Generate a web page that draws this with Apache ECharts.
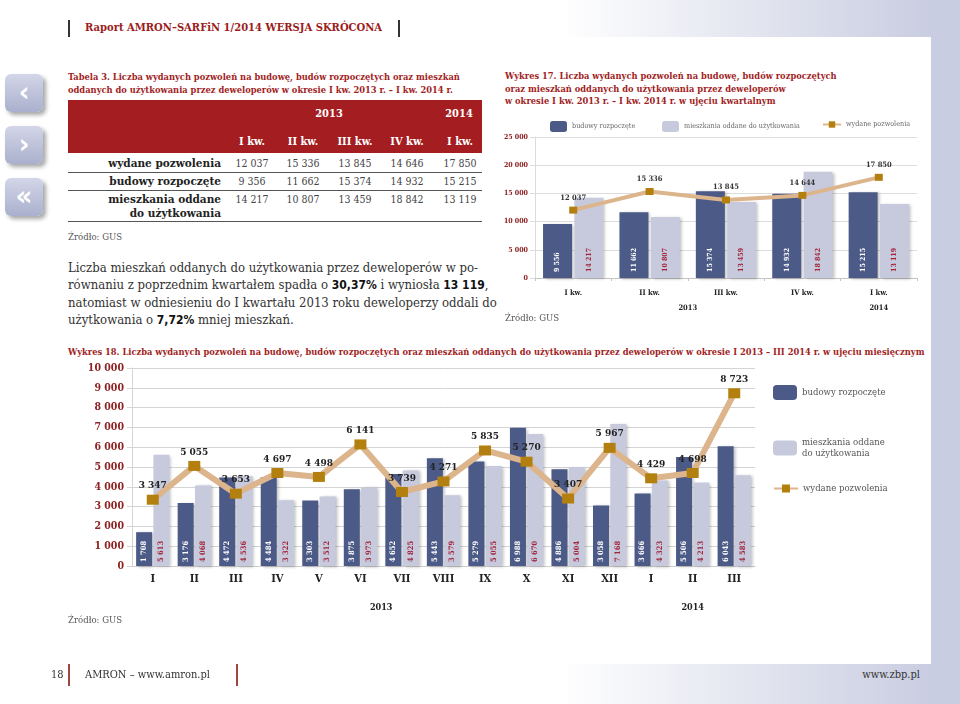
<!DOCTYPE html>
<html><head><meta charset="utf-8">
<script src="https://cdn.jsdelivr.net/npm/echarts@6/dist/echarts.min.js"></script>
<style>
html,body{margin:0;padding:0;}
body{width:960px;height:704px;position:relative;overflow:hidden;
 background:linear-gradient(90deg,#fff 0px,#fff 560px,#c9cde1 932px,#c9cde1 960px);
 font-family:'DejaVu Serif Condensed','DejaVu Serif',serif;color:#333;}
.abs{position:absolute;white-space:nowrap;}
#panel{position:absolute;left:0;top:37px;width:931px;height:627px;background:#fff;}
.vbar{position:absolute;width:2px;background:#333;}
.ttl{position:absolute;color:#a01e24;font-weight:bold;font-size:9.25px;line-height:12.5px;white-space:nowrap;}
.src{position:absolute;font-size:9.5px;color:#555;white-space:nowrap;}
.nav{position:absolute;left:5px;width:38px;height:38px;border-radius:6px;
 background:linear-gradient(180deg,#d3d6e8,#aab0cd);box-shadow:3px 3px 4px rgba(0,0,0,0.35);
 color:#fff;font-family:'DejaVu Sans',sans-serif;font-weight:bold;font-size:26px;line-height:36px;text-align:center;}
.hd{position:absolute;color:#fff;font-weight:bold;font-size:11px;transform:translate(-50%,-50%);white-space:nowrap;}
.cell{position:absolute;font-size:10.5px;color:#444;transform:translate(-50%,-50%);white-space:nowrap;}
.lab{position:absolute;font-weight:bold;font-size:11.7px;color:#222;text-align:right;white-space:nowrap;transform:translateY(-50%);}
.rule{position:absolute;left:68px;width:414px;height:1px;background:#555;}
#para{position:absolute;left:68px;top:259px;font-size:13px;line-height:17px;color:#333;white-space:nowrap;}
#para b{font-family:'DejaVu Sans Condensed','DejaVu Sans',sans-serif;font-size:12px;font-weight:bold;color:#111;}
</style></head>
<body>
<div id="panel"></div>
<div class="vbar" style="left:68px;top:20px;height:17px;"></div>
<div class="abs" style="left:85px;top:21px;font-size:11.1px;font-weight:bold;color:#9b1d22;">Raport AMRON–SARFiN 1/2014 WERSJA SKRÓCONA</div>
<div class="vbar" style="left:398px;top:20px;height:17px;"></div>

<div class="nav" style="top:74px;">‹</div>
<div class="nav" style="top:126px;">›</div>
<div class="nav" style="top:178px;">«</div>

<div class="ttl" style="left:68px;top:71px;">Tabela 3. Liczba wydanych pozwoleń na budowę, budów rozpoczętych oraz mieszkań<br>oddanych do użytkowania przez deweloperów w okresie I kw. 2013 r. – I kw. 2014 r.</div>
<div id="tbl"></div>
<div class="src" style="left:68px;top:231px;">Źródło: GUS</div>

<div id="para">Liczba mieszkań oddanych do użytkowania przez deweloperów w po-<br>równaniu z poprzednim kwartałem spadła o <b>30,37%</b> i wyniosła <b>13 119</b>,<br>natomiast w odniesieniu do I kwartału 2013 roku deweloperzy oddali do<br>użytkowania o <b>7,72%</b> mniej mieszkań.</div>

<div class="ttl" style="left:505px;top:70px;">Wykres 17. Liczba wydanych pozwoleń na budowę, budów rozpoczętych<br>oraz mieszkań oddanych do użytkowania przez deweloperów<br>w okresie I kw. 2013 r. – I kw. 2014 r. w ujęciu kwartalnym</div>
<div id="c17" class="abs" style="left:480px;top:110px;width:452px;height:210px;"></div>
<div class="src" style="left:505px;top:312px;">Źródło: GUS</div>

<div class="ttl" style="left:68px;top:346px;">Wykres 18. Liczba wydanych pozwoleń na budowę, budów rozpoczętych oraz mieszkań oddanych do użytkowania przez deweloperów w okresie I 2013 – III 2014 r. w ujęciu miesięcznym</div>
<div id="c18" class="abs" style="left:60px;top:358px;width:872px;height:262px;"></div>
<div class="src" style="left:68px;top:614px;">Źródło: GUS</div>

<div class="abs" style="left:51px;top:668px;font-size:11px;color:#333;">18</div>
<div class="vbar" style="left:68px;top:664px;height:22px;width:1.5px;background:#a0463c;"></div>
<div class="abs" style="left:85px;top:668px;font-size:11px;color:#333;">AMRON – www.amron.pl</div>
<div class="vbar" style="left:236px;top:664px;height:22px;width:1.5px;background:#a0463c;"></div>
<div class="abs" style="right:40px;top:668px;font-size:11px;color:#333;">www.zbp.pl</div>

<script>
// ---------- data ----------
const tableYears = ['2013', '2014'];
const quarters = ['I kw.', 'II kw.', 'III kw.', 'IV kw.', 'I kw.'];
const rowNames = ['wydane pozwolenia', 'budowy rozpoczęte', 'mieszkania oddane\ndo użytkowania'];
const tablePermits = [12037, 15336, 13845, 14646, 17850];
const tableStarted = [9356, 11662, 15374, 14932, 15215];
const tableCompleted = [14217, 10807, 13459, 18842, 13119];

const seriesNames = ['budowy rozpoczęte', 'mieszkania oddane do użytkowania', 'wydane pozwolenia'];
const qStarted = [9556, 11662, 15374, 14932, 15215];
const qCompleted = [14217, 10807, 13459, 18842, 13119];
const qPermits = [12037, 15336, 13845, 14644, 17850];
const qYearLabels = ['2013', '2014'];

const months = ['I', 'II', 'III', 'IV', 'V', 'VI', 'VII', 'VIII', 'IX', 'X', 'XI', 'XII', 'I', 'II', 'III'];
const mStarted = [1708, 3176, 4472, 4484, 3303, 3875, 4652, 5443, 5279, 6988, 4886, 3058, 3666, 5506, 6043];
const mCompleted = [5613, 4068, 4536, 3322, 3512, 3973, 4825, 3579, 5055, 6670, 5004, 7168, 4323, 4213, 4583];
const mPermits = [3347, 5055, 3653, 4697, 4498, 6141, 3739, 4271, 5835, 5270, 3407, 5967, 4429, 4698, 8723];
const mYearLabels = ['2013', '2014'];

// ---------- helpers ----------
const F = "'DejaVu Serif Condensed','DejaVu Serif',serif";
const fmt = v => String(typeof v === 'object' ? v.value : v).replace(/\B(?=(\d{3})+(?!\d))/g, ' ');
const DARK = '#4b5a86', LIGHT = '#c7cadd', LINE = '#dcb58d', MARK = '#b3800f', AXRED = '#8e2121';

// ---------- table ----------
(function () {
  const t = document.getElementById('tbl');
  const add = (cls, html, style) => { const d = document.createElement('div'); d.className = cls; d.innerHTML = html; d.style.cssText = style; t.appendChild(d); };
  add('abs', '', 'left:68px;top:100px;width:414px;height:53px;background:#a31d21;');
  const colX = [252, 303, 355, 407, 460];
  add('hd', tableYears[0], 'left:329px;top:113px;');
  add('hd', tableYears[1], 'left:459px;top:113px;');
  quarters.forEach((q, i) => add('hd', q, `left:${colX[i]}px;top:141px;`));
  const rows = [tablePermits, tableStarted, tableCompleted];
  const rowY = [163, 181, 199];
  rows.forEach((r, ri) => {
    const lines = rowNames[ri].split('\n');
    lines.forEach((ln, li) => add('lab', ln, `right:${960 - 221}px;top:${rowY[ri] + li * 14}px;`));
    r.forEach((v, i) => add('cell', fmt(v), `left:${colX[i]}px;top:${rowY[ri]}px;`));
  });
  [172, 190, 221].forEach(y => add('rule', '', `top:${y}px;`));
})();

// ---------- chart 17 ----------
const c17 = echarts.init(document.getElementById('c17'));
const legTxt17 = { fontSize: 7.2, color: '#666', fontFamily: F };
c17.setOption({
  animation: false,
  textStyle: { fontFamily: F },
  legend: [
    { data: [seriesNames[0]], left: 65, top: 6, itemWidth: 17, itemHeight: 11, itemGap: 0, textStyle: legTxt17 },
    { data: [seriesNames[1]], left: 177, top: 6, itemWidth: 17, itemHeight: 11, itemGap: 0, textStyle: legTxt17 },
    { data: [seriesNames[2]], left: 337, top: 6, itemWidth: 18, itemHeight: 8, itemGap: 0, textStyle: legTxt17 }
  ],
  grid: { left: 55, right: 15, top: 27, bottom: 42 },
  xAxis: [
    { type: 'category', data: quarters,
      axisLine: { lineStyle: { color: '#c4c4c4' } },
      axisTick: { show: true, length: 3, lineStyle: { color: '#c4c4c4' } },
      axisLabel: { fontSize: 7.5, fontWeight: 'bold', color: '#222', margin: 11, fontFamily: F } },
    { type: 'value', position: 'bottom', offset: 22, min: 0, max: quarters.length, interval: 0.5,
      axisLine: { show: false }, axisTick: { show: false }, splitLine: { show: false },
      axisLabel: { fontSize: 7.5, fontWeight: 'bold', color: '#222', margin: 4, fontFamily: F,
        formatter: v => v === 2 ? qYearLabels[0] : (v === 4.5 ? qYearLabels[1] : '') } }
  ],
  yAxis: { type: 'value', min: 0, max: 25000, interval: 5000,
    axisLine: { show: true, lineStyle: { color: '#dcdcdc' } },
    splitLine: { lineStyle: { color: '#dcdcdc' } },
    axisLabel: { fontSize: 7, fontWeight: 'bold', color: AXRED, margin: 7, formatter: fmt, fontFamily: F } },
  series: [
    { name: seriesNames[0], type: 'bar', data: qStarted, barWidth: 29, barGap: '8%',
      itemStyle: { color: DARK, shadowColor: 'rgba(0,0,0,0.25)', shadowBlur: 3, shadowOffsetX: 2, shadowOffsetY: 1 },
      label: { show: true, position: 'insideBottom', rotate: 90, align: 'left', verticalAlign: 'middle', distance: 6,
        fontSize: 7, fontWeight: 'bold', color: '#fff', formatter: fmt, fontFamily: F } },
    { name: seriesNames[1], type: 'bar', data: qCompleted, barWidth: 29,
      itemStyle: { color: LIGHT, shadowColor: 'rgba(0,0,0,0.25)', shadowBlur: 3, shadowOffsetX: 2, shadowOffsetY: 1 },
      label: { show: true, position: 'insideBottom', rotate: 90, align: 'left', verticalAlign: 'middle', distance: 6,
        fontSize: 7, fontWeight: 'bold', color: '#a2253a', formatter: fmt, fontFamily: F } },
    { name: seriesNames[2], type: 'line', data: qPermits, symbol: 'rect', symbolSize: [8, 7], z: 5,
      lineStyle: { color: LINE, width: 4 }, itemStyle: { color: MARK },
      label: { show: true, position: 'top', distance: 5, fontSize: 7.5, fontWeight: 'bold', color: '#333', formatter: fmt, fontFamily: F } }
  ]
});

// ---------- chart 18 ----------
const c18 = echarts.init(document.getElementById('c18'));
const legTxt18 = { fontSize: 9.5, color: '#555', fontFamily: F, lineHeight: 11 };
c18.setOption({
  animation: false,
  textStyle: { fontFamily: F },
  legend: [
    { data: [seriesNames[0]], orient: 'vertical', left: 708, top: 22, itemWidth: 24, itemHeight: 15, textStyle: legTxt18 },
    { data: [seriesNames[1]], orient: 'vertical', left: 708, top: 74, itemWidth: 24, itemHeight: 15, textStyle: legTxt18,
      formatter: () => 'mieszkania oddane\ndo użytkowania' },
    { data: [seriesNames[2]], orient: 'vertical', left: 708, top: 120, itemWidth: 24, itemHeight: 10, textStyle: legTxt18 }
  ],
  grid: { left: 72, right: 177, top: 10, bottom: 54 },
  xAxis: [
    { type: 'category', data: months,
      axisLine: { lineStyle: { color: '#cfcfcf' } },
      axisTick: { show: false },
      axisLabel: { fontSize: 11, fontWeight: 'bold', color: '#222', margin: 8, fontFamily: F } },
    { type: 'value', position: 'bottom', offset: 33, min: 0, max: months.length, interval: 0.5,
      axisLine: { show: false }, axisTick: { show: false }, splitLine: { show: false },
      axisLabel: { fontSize: 9, fontWeight: 'bold', color: '#222', margin: 4, fontFamily: F,
        formatter: v => v === 6 ? mYearLabels[0] : (v === 13.5 ? mYearLabels[1] : '') } }
  ],
  yAxis: { type: 'value', min: 0, max: 10000, interval: 1000,
    axisLine: { show: true, lineStyle: { color: '#d4d4d4' } },
    splitLine: { lineStyle: { color: '#d4d4d4' } },
    axisLabel: { fontSize: 10.5, fontWeight: 'bold', color: AXRED, margin: 8, formatter: fmt, fontFamily: F } },
  series: [
    { name: seriesNames[0], type: 'bar', data: mStarted, barWidth: 16, barGap: '8%',
      itemStyle: { color: DARK, shadowColor: 'rgba(0,0,0,0.25)', shadowBlur: 3, shadowOffsetX: 2, shadowOffsetY: 1 },
      label: { show: true, position: 'insideBottom', rotate: 90, align: 'left', verticalAlign: 'middle', distance: 4,
        fontSize: 7.5, fontWeight: 'bold', color: '#fff', formatter: fmt, fontFamily: F } },
    { name: seriesNames[1], type: 'bar', data: mCompleted, barWidth: 16,
      itemStyle: { color: LIGHT, shadowColor: 'rgba(0,0,0,0.25)', shadowBlur: 3, shadowOffsetX: 2, shadowOffsetY: 1 },
      label: { show: true, position: 'insideBottom', rotate: 90, align: 'left', verticalAlign: 'middle', distance: 4,
        fontSize: 7.5, fontWeight: 'bold', color: '#a2253a', formatter: fmt, fontFamily: F } },
    { name: seriesNames[2], type: 'line', data: mPermits, symbol: 'rect', symbolSize: [12, 10], z: 5,
      lineStyle: { color: LINE, width: 6 }, itemStyle: { color: MARK },
      label: { show: true, position: 'top', distance: 4, fontSize: 10, fontWeight: 'bold', color: '#222', formatter: fmt, fontFamily: F } }
  ]
});
</script>
</body></html>
